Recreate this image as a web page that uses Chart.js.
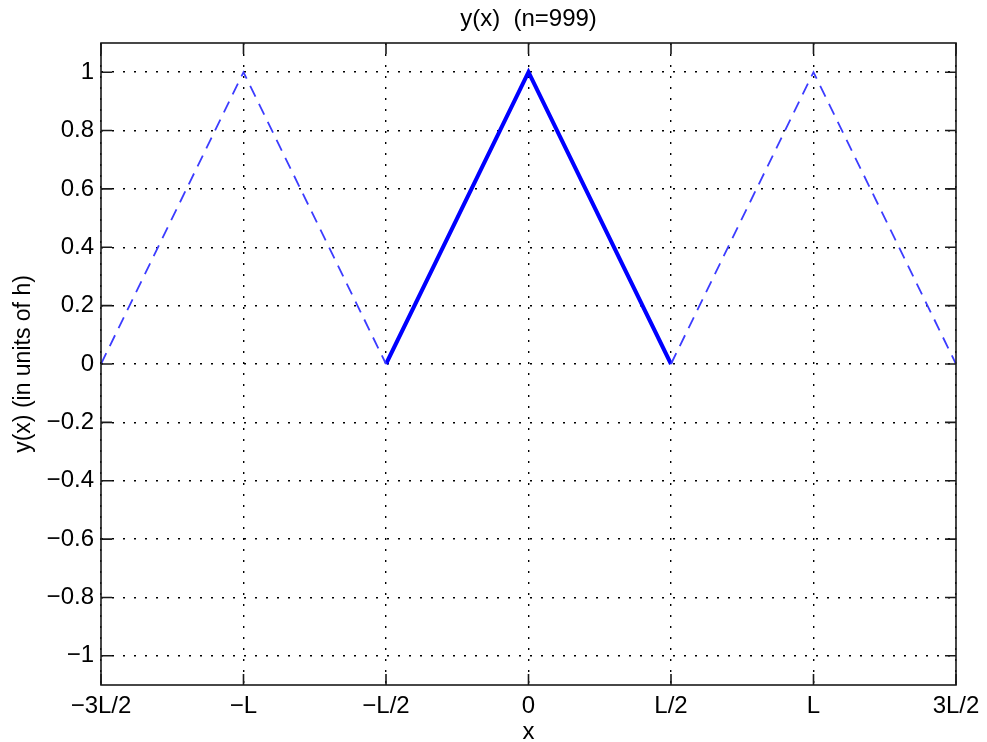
<!DOCTYPE html>
<html>
<head>
<meta charset="utf-8">
<script src="https://cdn.jsdelivr.net/npm/chart.js@4.4.0/dist/chart.umd.min.js"></script>
<style>
html,body{margin:0;padding:0;background:#fff;}
#wrap{width:987px;height:742px;}
</style>
</head>
<body>
<div id="wrap"><canvas id="c" width="987" height="742"></canvas></div>
<script>
// Data (x in units of L, y in units of h)
const solidX = [-0.5, 0, 0.5];
const solidY = [0, 1, 0];
const leftDashX = [-1.5, -1, -0.5];
const leftDashY = [0, 1, 0];
const rightDashX = [0.5, 1, 1.5];
const rightDashY = [0, 1, 0];
const xTickValues = [-1.5, -1, -0.5, 0, 0.5, 1, 1.5];
const xTickLabels = ['\u22123L/2', '\u2212L', '\u2212L/2', '0', 'L/2', 'L', '3L/2'];
const yTickValues = [-1, -0.8, -0.6, -0.4, -0.2, 0, 0.2, 0.4, 0.6, 0.8, 1];
const yTickLabels = ['\u22121', '\u22120.8', '\u22120.6', '\u22120.4', '\u22120.2', '0', '0.2', '0.4', '0.6', '0.8', '1'];
const titleText = 'y(x)  (n=999)';
const xTitle = 'x';
const yTitle = 'y(x) (in units of h)';

const FONT = '"Liberation Sans", Arial, Helvetica, sans-serif';
const pts = (xs, ys) => xs.map((x, i) => ({x: x, y: ys[i]}));

const framePlugin = {
  id: 'frame',
  afterDraw(chart) {
    const {ctx, chartArea: a, scales} = chart;
    const tl = 11;
    ctx.save();
    ctx.strokeStyle = '#1a1a1a';
    ctx.lineWidth = 1.6;
    ctx.beginPath();
    xTickValues.forEach(v => {
      const px = scales.x.getPixelForValue(v);
      ctx.moveTo(px, a.bottom); ctx.lineTo(px, a.bottom - tl);
      ctx.moveTo(px, a.top); ctx.lineTo(px, a.top + tl);
    });
    yTickValues.forEach(v => {
      const py = scales.y.getPixelForValue(v);
      ctx.moveTo(a.left, py); ctx.lineTo(a.left + tl, py);
      ctx.moveTo(a.right, py); ctx.lineTo(a.right - tl, py);
    });
    ctx.stroke();
    ctx.strokeRect(a.left, a.top, a.right - a.left, a.bottom - a.top);
    // title centred over the plot area
    ctx.fillStyle = '#000';
    ctx.font = '24px ' + FONT;
    ctx.textAlign = 'center';
    ctx.textBaseline = 'middle';
    ctx.fillText(titleText, (a.left + a.right) / 2, 19);
    ctx.restore();
  }
};

new Chart(document.getElementById('c'), {
  type: 'scatter',
  data: {
    datasets: [
      {data: pts(leftDashX, leftDashY), showLine: true, borderColor: '#3c3cff', borderWidth: 1.8, borderDash: [12, 8], pointRadius: 0, fill: false},
      {data: pts(rightDashX, rightDashY), showLine: true, borderColor: '#3c3cff', borderWidth: 1.8, borderDash: [12, 8], pointRadius: 0, fill: false},
      {data: pts(solidX, solidY), showLine: true, borderColor: '#0000ff', borderWidth: 4, pointRadius: 0, fill: false}
    ]
  },
  options: {
    responsive: false,
    animation: false,
    layout: {padding: {left: 0, right: 31, top: 43, bottom: 0}},
    plugins: {
      legend: {display: false},
      tooltip: {enabled: false},
      title: {display: false}
    },
    scales: {
      x: {
        type: 'linear',
        min: -1.5, max: 1.5,
        afterBuildTicks: s => { s.ticks = xTickValues.map(v => ({value: v})); },
        afterFit: s => { s.height = 57; },
        ticks: {
          color: '#000',
          font: {family: FONT, size: 24},
          padding: 7,
          maxRotation: 0,
          autoSkip: false,
          callback: (v) => { const i = xTickValues.indexOf(v); return i >= 0 ? xTickLabels[i] : ''; }
        },
        grid: {color: '#000', lineWidth: 1.4, drawTicks: false},
        border: {display: false, dash: [2, 9]},
        title: {display: true, text: xTitle, color: '#000', font: {family: FONT, size: 24, lineHeight: 0.8}, padding: {top: 0, bottom: 0}}
      },
      y: {
        type: 'linear',
        min: -1.1, max: 1.1,
        afterBuildTicks: s => { s.ticks = yTickValues.map(v => ({value: v})); },
        afterFit: s => { s.width = 101; },
        ticks: {
          color: '#000',
          font: {family: FONT, size: 24},
          padding: 7,
          autoSkip: false,
          callback: (v) => { const i = yTickValues.findIndex(t => Math.abs(t - v) < 1e-9); return i >= 0 ? yTickLabels[i] : ''; }
        },
        grid: {color: '#000', lineWidth: 1.4, drawTicks: false},
        border: {display: false, dash: [2, 9]},
        title: {display: true, text: yTitle, color: '#000', font: {family: FONT, size: 23, lineHeight: 1.2}, padding: {top: 10, bottom: 0}}
      }
    }
  },
  plugins: [framePlugin]
});
</script>
</body>
</html>
